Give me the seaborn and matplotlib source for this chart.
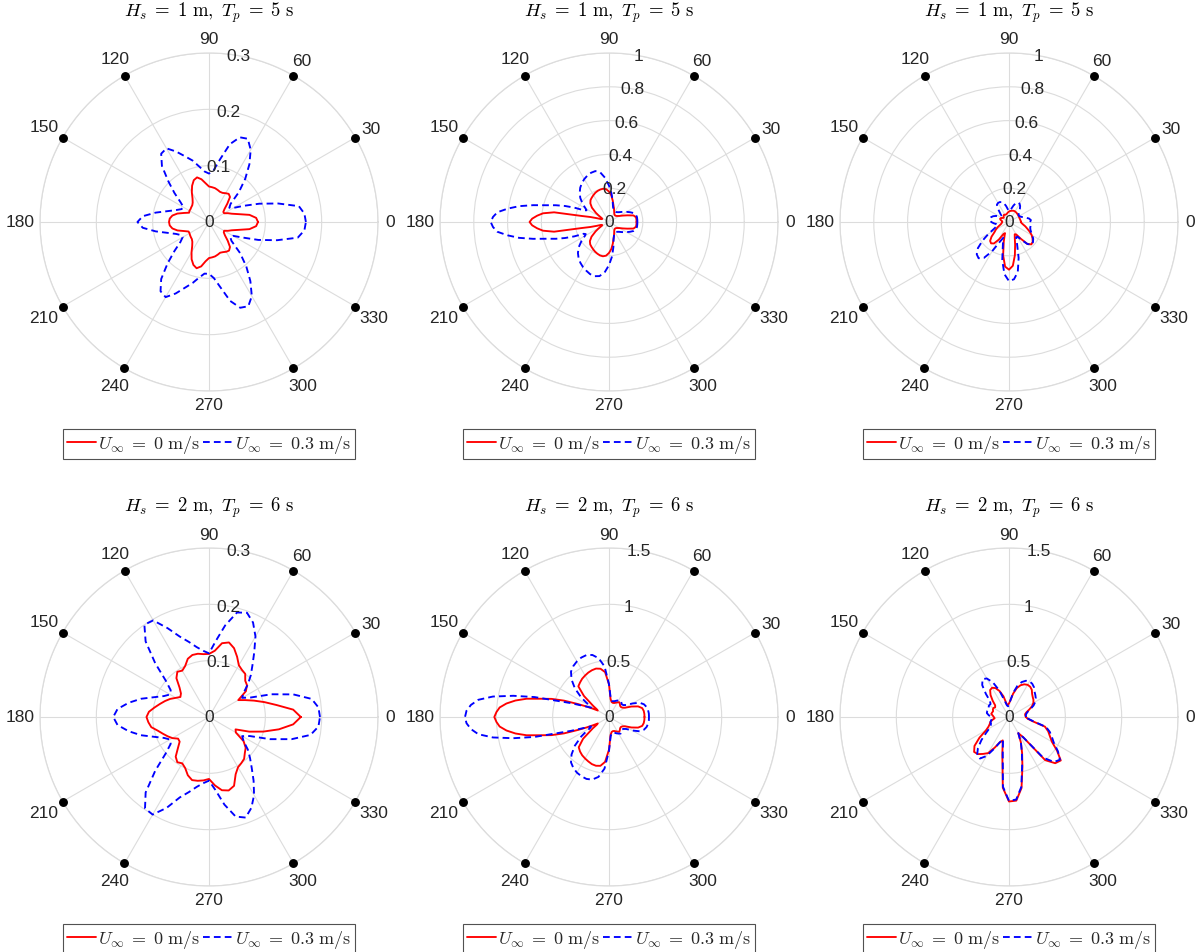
import numpy as np
import matplotlib
matplotlib.use("Agg")
import matplotlib.pyplot as plt
import seaborn as sns

sns.set_theme(style="white")
plt.rcParams["font.family"] = ["Liberation Sans", "DejaVu Sans"]
plt.rcParams["mathtext.fontset"] = "cm"

# Heading angles (deg): a 5 deg grid, and a grid refined around the
# head-sea lobe for the two panels with a narrow 180 deg peak
theta_coarse = np.arange(0, 360, 5)
theta_fine = np.concatenate([np.arange(0, 147.5, 5),
                             np.arange(147.5, 215, 2.5),
                             np.arange(215, 360, 5)])

# --- Hs = 1 m, Tp = 5 s ------------------------------------------------------
r_a_calm = [
    0.087, 0.084, 0.073, 0.054, 0.043, 0.037, 0.031, 0.031, 0.036, 0.046, 0.058, 0.061,
    0.059, 0.057, 0.057, 0.059, 0.061, 0.062, 0.063, 0.069, 0.077, 0.082, 0.079, 0.071,
    0.061, 0.051, 0.045, 0.042, 0.041, 0.040, 0.040, 0.039, 0.047, 0.058, 0.066, 0.070,
    0.071, 0.070, 0.066, 0.058, 0.047, 0.040, 0.040, 0.041, 0.042, 0.043, 0.046, 0.052,
    0.062, 0.073, 0.081, 0.085, 0.080, 0.070, 0.064, 0.063, 0.062, 0.060, 0.058, 0.059,
    0.061, 0.062, 0.058, 0.047, 0.037, 0.032, 0.031, 0.037, 0.043, 0.054, 0.073, 0.084]
r_a_curr = [
    0.172, 0.170, 0.162, 0.127, 0.095, 0.068, 0.050, 0.044, 0.050, 0.075, 0.100, 0.125,
    0.148, 0.163, 0.160, 0.143, 0.113, 0.092, 0.086, 0.090, 0.100, 0.113, 0.124, 0.138,
    0.151, 0.148, 0.130, 0.102, 0.080, 0.062, 0.052, 0.054, 0.062, 0.075, 0.096, 0.118,
    0.127, 0.118, 0.096, 0.075, 0.062, 0.055, 0.054, 0.062, 0.080, 0.104, 0.132, 0.150,
    0.154, 0.140, 0.124, 0.112, 0.100, 0.092, 0.092, 0.100, 0.118, 0.145, 0.162, 0.165,
    0.152, 0.128, 0.103, 0.078, 0.052, 0.046, 0.049, 0.065, 0.093, 0.125, 0.160, 0.170]

r_b_calm = [
    0.163, 0.163, 0.162, 0.150, 0.115, 0.090, 0.072, 0.062, 0.056, 0.053, 0.053, 0.056,
    0.062, 0.072, 0.086, 0.102, 0.128, 0.158, 0.180, 0.195, 0.200, 0.199, 0.196, 0.191,
    0.184, 0.177, 0.170, 0.156, 0.132, 0.095,
    0.075, 0.058, 0.048, 0.044, 0.045, 0.050, 0.075, 0.114, 0.164, 0.330, 0.394, 0.427,
    0.455, 0.470, 0.455, 0.427, 0.394, 0.330, 0.164, 0.114, 0.075, 0.050, 0.045, 0.044,
    0.048, 0.060, 0.078,
    0.097, 0.135, 0.160, 0.173, 0.180, 0.187, 0.194, 0.200, 0.205, 0.206, 0.200, 0.183,
    0.160, 0.130, 0.103, 0.087, 0.072, 0.062, 0.056, 0.053, 0.053, 0.056, 0.062, 0.072,
    0.090, 0.115, 0.150, 0.162, 0.163]
r_b_curr = [
    0.168, 0.168, 0.168, 0.165, 0.155, 0.137, 0.120, 0.105, 0.092, 0.082, 0.076, 0.072,
    0.071, 0.073, 0.080, 0.092, 0.125, 0.170, 0.215, 0.262, 0.298, 0.312, 0.310, 0.303,
    0.293, 0.280, 0.265, 0.245, 0.222, 0.192,
    0.175, 0.160, 0.150, 0.163, 0.222, 0.277, 0.330, 0.383, 0.460, 0.540, 0.605, 0.663,
    0.687, 0.700, 0.687, 0.663, 0.605, 0.540, 0.460, 0.383, 0.330, 0.277, 0.222, 0.165,
    0.155, 0.165, 0.182,
    0.200, 0.235, 0.260, 0.280, 0.295, 0.308, 0.318, 0.328, 0.332, 0.325, 0.300, 0.255,
    0.205, 0.150, 0.105, 0.086, 0.075, 0.071, 0.072, 0.076, 0.082, 0.092, 0.105, 0.120,
    0.137, 0.155, 0.165, 0.168, 0.168]

r_c_calm = [
    0.070, 0.070, 0.068, 0.067, 0.066, 0.066, 0.067, 0.067, 0.068, 0.069, 0.070, 0.071,
    0.072, 0.072, 0.071, 0.069, 0.067, 0.065, 0.062, 0.058, 0.054, 0.050, 0.048, 0.048,
    0.050, 0.052, 0.050, 0.045, 0.040, 0.042, 0.048, 0.054, 0.056, 0.052, 0.045, 0.040,
    0.040, 0.042, 0.045, 0.050, 0.060, 0.075, 0.090, 0.105, 0.135, 0.158, 0.165, 0.155,
    0.120, 0.080, 0.070, 0.120, 0.200, 0.265, 0.282, 0.260, 0.200, 0.140, 0.100, 0.080,
    0.085, 0.120, 0.170, 0.187, 0.183, 0.170, 0.155, 0.135, 0.115, 0.100, 0.085, 0.075]
r_c_curr = [
    0.125, 0.130, 0.120, 0.100, 0.085, 0.075, 0.070, 0.070, 0.075, 0.085, 0.100, 0.115,
    0.125, 0.127, 0.120, 0.100, 0.080, 0.070, 0.065, 0.075, 0.095, 0.115, 0.125, 0.130,
    0.130, 0.125, 0.100, 0.075, 0.060, 0.060, 0.070, 0.085, 0.100, 0.110, 0.115, 0.112,
    0.105, 0.090, 0.075, 0.070, 0.080, 0.100, 0.140, 0.190, 0.240, 0.270, 0.280, 0.260,
    0.200, 0.130, 0.100, 0.140, 0.230, 0.310, 0.350, 0.340, 0.300, 0.220, 0.140, 0.100,
    0.100, 0.130, 0.170, 0.190, 0.185, 0.175, 0.160, 0.145, 0.135, 0.130, 0.130, 0.128]

# --- Hs = 2 m, Tp = 6 s ------------------------------------------------------
r_d_calm = [
    0.163, 0.150, 0.122, 0.102, 0.085, 0.071, 0.060, 0.080, 0.088, 0.091, 0.100, 0.102,
    0.106, 0.118, 0.130, 0.137, 0.133, 0.118, 0.112, 0.112, 0.114, 0.114, 0.110, 0.100,
    0.095, 0.098, 0.090, 0.074, 0.065, 0.062, 0.068, 0.076, 0.083, 0.090, 0.098, 0.107,
    0.111, 0.108, 0.104, 0.094, 0.087, 0.081, 0.075, 0.067, 0.068, 0.078, 0.092, 0.098,
    0.095, 0.100, 0.110, 0.116, 0.115, 0.113, 0.110, 0.122, 0.132, 0.135, 0.130, 0.112,
    0.103, 0.100, 0.097, 0.090, 0.085, 0.075, 0.055, 0.052, 0.076, 0.100, 0.126, 0.150]
r_d_curr = [
    0.197, 0.195, 0.185, 0.155, 0.118, 0.082, 0.068, 0.075, 0.090, 0.105, 0.120, 0.140,
    0.165, 0.185, 0.197, 0.192, 0.165, 0.135, 0.113, 0.118, 0.126, 0.138, 0.152, 0.174,
    0.198, 0.200, 0.175, 0.135, 0.100, 0.083, 0.080, 0.088, 0.103, 0.125, 0.145, 0.163,
    0.170, 0.163, 0.145, 0.125, 0.103, 0.088, 0.080, 0.083, 0.100, 0.135, 0.175, 0.198,
    0.200, 0.178, 0.152, 0.138, 0.126, 0.118, 0.113, 0.130, 0.158, 0.183, 0.190, 0.178,
    0.160, 0.138, 0.118, 0.103, 0.090, 0.075, 0.068, 0.080, 0.115, 0.152, 0.183, 0.195]

r_e_calm = [
    0.315, 0.315, 0.313, 0.305, 0.275, 0.220, 0.165, 0.145, 0.138, 0.140, 0.150, 0.160,
    0.150, 0.140, 0.132, 0.130, 0.135, 0.160, 0.290, 0.400, 0.435, 0.445, 0.442, 0.435,
    0.425, 0.415, 0.400, 0.385, 0.290, 0.170,
    0.130, 0.115, 0.157, 0.220, 0.303, 0.425, 0.535, 0.626, 0.749, 0.843, 0.918, 0.974,
    1.000, 1.018, 1.000, 0.974, 0.918, 0.843, 0.749, 0.626, 0.535, 0.425, 0.303, 0.220,
    0.157, 0.115, 0.130,
    0.175, 0.300, 0.380, 0.400, 0.415, 0.425, 0.435, 0.445, 0.448, 0.440, 0.400, 0.290,
    0.160, 0.135, 0.130, 0.132, 0.140, 0.150, 0.160, 0.150, 0.140, 0.138, 0.145, 0.165,
    0.220, 0.275, 0.305, 0.313, 0.315]
r_e_curr = [
    0.355, 0.355, 0.352, 0.345, 0.330, 0.300, 0.240, 0.185, 0.165, 0.160, 0.170, 0.180,
    0.170, 0.160, 0.150, 0.145, 0.145, 0.170, 0.290, 0.450, 0.530, 0.570, 0.585, 0.582,
    0.570, 0.552, 0.525, 0.470, 0.395, 0.300,
    0.240, 0.190, 0.180, 0.218, 0.270, 0.360, 0.472, 0.683, 0.870, 1.046, 1.170, 1.230,
    1.266, 1.278, 1.266, 1.230, 1.170, 1.046, 0.870, 0.683, 0.472, 0.360, 0.270, 0.218,
    0.180, 0.190, 0.240,
    0.300, 0.395, 0.470, 0.525, 0.552, 0.570, 0.580, 0.585, 0.575, 0.540, 0.460, 0.300,
    0.170, 0.145, 0.145, 0.150, 0.160, 0.170, 0.180, 0.170, 0.160, 0.165, 0.185, 0.240,
    0.300, 0.330, 0.345, 0.352, 0.355]

r_f_calm = [
    0.150, 0.145, 0.145, 0.160, 0.190, 0.225, 0.250, 0.265, 0.275, 0.290, 0.315, 0.328,
    0.330, 0.320, 0.300, 0.265, 0.210, 0.150, 0.120, 0.110, 0.115, 0.190, 0.245, 0.283,
    0.300, 0.292, 0.255, 0.205, 0.160, 0.150, 0.160, 0.158, 0.150, 0.155, 0.160, 0.145,
    0.135, 0.128, 0.150, 0.172, 0.182, 0.200, 0.235, 0.320, 0.400, 0.438, 0.430, 0.400,
    0.370, 0.300, 0.240, 0.215, 0.340, 0.630, 0.750, 0.745, 0.640, 0.460, 0.340, 0.250,
    0.165, 0.220, 0.500, 0.580, 0.600, 0.520, 0.440, 0.400, 0.370, 0.330, 0.210, 0.165]
r_f_curr = [
    0.150, 0.150, 0.155, 0.170, 0.200, 0.240, 0.270, 0.290, 0.305, 0.320, 0.345, 0.360,
    0.365, 0.355, 0.330, 0.285, 0.220, 0.150, 0.110, 0.095, 0.105, 0.150, 0.250, 0.340,
    0.395, 0.410, 0.370, 0.290, 0.220, 0.200, 0.205, 0.200, 0.190, 0.200, 0.200, 0.180,
    0.160, 0.150, 0.160, 0.170, 0.170, 0.180, 0.200, 0.250, 0.320, 0.390, 0.440, 0.450,
    0.400, 0.310, 0.240, 0.205, 0.320, 0.620, 0.745, 0.735, 0.630, 0.450, 0.335, 0.250,
    0.165, 0.220, 0.470, 0.565, 0.590, 0.530, 0.460, 0.420, 0.385, 0.340, 0.220, 0.170]

titles = [r"$H_s\;{=}\;1\ \mathrm{m},\ T_p\;{=}\;5\ \mathrm{s}$"] * 3 + \
         [r"$H_s\;{=}\;2\ \mathrm{m},\ T_p\;{=}\;6\ \mathrm{s}$"] * 3
calm_series = [r_a_calm, r_b_calm, r_c_calm, r_d_calm, r_e_calm, r_f_calm]
curr_series = [r_a_curr, r_b_curr, r_c_curr, r_d_curr, r_e_curr, r_f_curr]
theta_grids = [theta_coarse, theta_fine, theta_coarse,
               theta_coarse, theta_fine, theta_coarse]
r_limits = [0.3, 1.0, 1.0, 0.3, 1.5, 1.5]
r_ticks = [[0, 0.1, 0.2, 0.3],
           [0, 0.2, 0.4, 0.6, 0.8, 1],
           [0, 0.2, 0.4, 0.6, 0.8, 1],
           [0, 0.1, 0.2, 0.3],
           [0, 0.5, 1, 1.5],
           [0, 0.5, 1, 1.5]]
r_tick_labels = [["0", "0.1", "0.2", "0.3"],
                 ["0", "0.2", "0.4", "0.6", "0.8", "1"],
                 ["0", "0.2", "0.4", "0.6", "0.8", "1"],
                 ["0", "0.1", "0.2", "0.3"],
                 ["0", "0.5", "1", "1.5"],
                 ["0", "0.5", "1", "1.5"]]
theta_ticks = list(range(0, 360, 30))
marker_angles = [30, 60, 120, 150, 210, 240, 300, 330]
legend_labels = [r"$U_\infty\;{=}\;0\ \mathrm{m/s}$",
                 r"$U_\infty\;{=}\;0.3\ \mathrm{m/s}$"]

W, H = 1200, 953
R_PX = 169.0          # polar radius in pixels
GRID_C = "#dcdcdc"
TXT_C = "#262626"
FS = 12.5

fig = plt.figure(figsize=(W / 100, H / 100), dpi=100)
fig.patch.set_facecolor("white")

centers = [(209, 223), (609, 223), (1009, 223), (209, 718), (609, 718), (1009, 718)]

for i, (cx, cy) in enumerate(centers):
    rect = [(cx - R_PX) / W, (H - cy - R_PX) / H, 2 * R_PX / W, 2 * R_PX / H]
    ax = fig.add_axes(rect, projection="polar")
    rmax = r_limits[i]

    th = np.deg2rad(np.append(theta_grids[i], 360))
    calm = np.append(calm_series[i], calm_series[i][0])
    curr = np.append(curr_series[i], curr_series[i][0])
    sns.lineplot(x=th, y=calm, ax=ax, sort=False, estimator=None,
                 color=(1, 0, 0), linewidth=1.35, label=legend_labels[0], zorder=3)
    sns.lineplot(x=th, y=curr, ax=ax, sort=False, estimator=None,
                 color=(0, 0, 1), linewidth=1.35, linestyle=(0, (3.6, 2.2)),
                 label=legend_labels[1], zorder=4)

    ax.set_ylim(0, rmax)
    ax.set_xticks(np.deg2rad(theta_ticks))
    ax.set_xticklabels([])
    ax.set_yticks(r_ticks[i])
    ax.set_yticklabels([])
    ax.grid(True, color=GRID_C, linewidth=0.8)
    ax.spines["polar"].set_color(GRID_C)
    ax.spines["polar"].set_linewidth(0.9)
    ax.set_xlabel("")
    ax.set_ylabel("")
    ax.tick_params(length=0)
    ax.set_facecolor("white")

    # angle labels outside the rim
    for t in theta_ticks:
        s = str(t)
        a = np.deg2rad(t)
        w = 8.4 * len(s)
        ext = abs(np.cos(a)) * w / 2 + abs(np.sin(a)) * 13.0 / 2
        rr = rmax * (1 + (7.5 + ext) / R_PX)
        ax.text(a, rr, s, ha="center", va="center", fontsize=FS, color=TXT_C,
                clip_on=False)

    # radial labels along the 80 deg direction
    for v, s in zip(r_ticks[i], r_tick_labels[i]):
        ax.text(np.deg2rad(80), v, s, ha="center", va="center", fontsize=FS,
                color=TXT_C, zorder=5)

    # rim markers
    ax.plot(np.deg2rad(marker_angles), [rmax] * len(marker_angles), "o",
            color="black", markersize=5.4, clip_on=False, zorder=6)

    ax.text(0.5, 1 + 41 / (2 * R_PX), titles[i], transform=ax.transAxes,
            ha="center", va="center", fontsize=13.5, color="black")

    leg = ax.legend(loc="center", bbox_to_anchor=(0.5, -0.157), ncol=2,
                    fontsize=13, frameon=True, fancybox=False, handlelength=1.6,
                    handletextpad=0.15, columnspacing=0.15, borderpad=0.2,
                    borderaxespad=0)
    leg.get_frame().set_edgecolor("#262626")
    leg.get_frame().set_linewidth(0.8)

fig.savefig("out.png", dpi=100, facecolor="white")
